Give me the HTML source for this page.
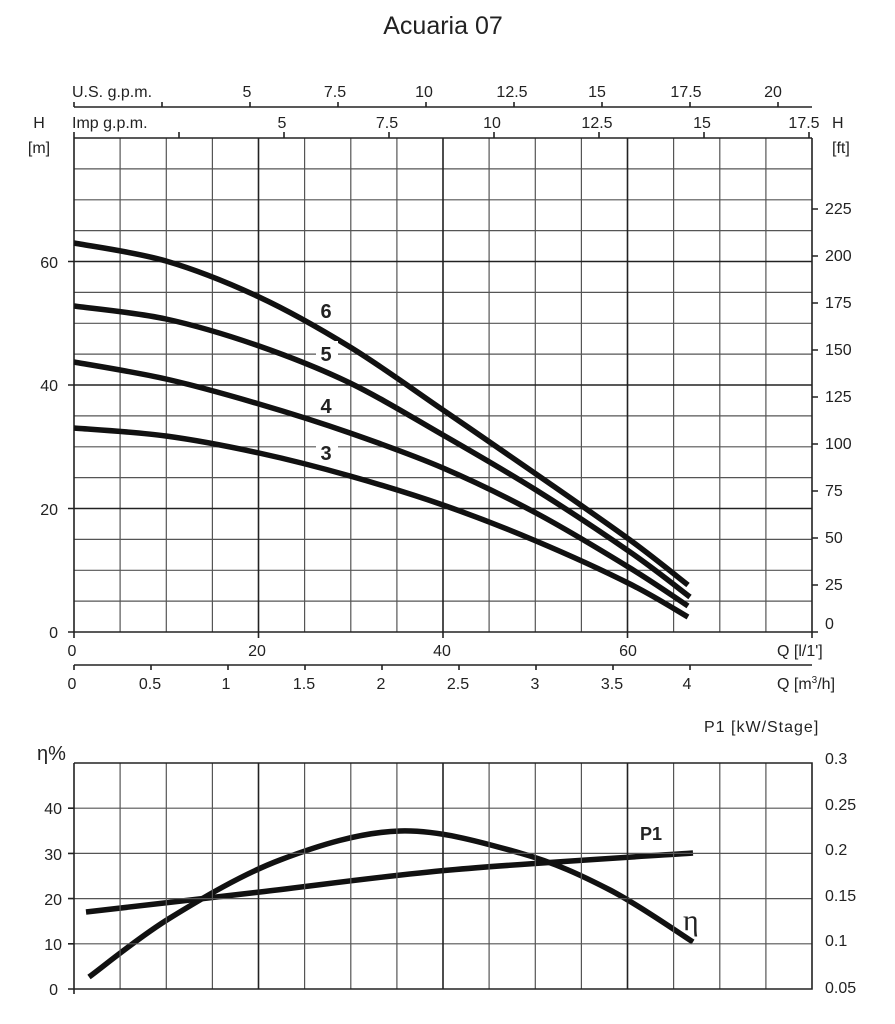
<!DOCTYPE html>
<html><head><meta charset="utf-8"><style>
html,body{margin:0;padding:0;background:#fff;}
svg{display:block;font-family:"Liberation Sans",sans-serif;fill:#222;}
</style></head><body>
<svg width="895" height="1024" viewBox="0 0 895 1024" xmlns="http://www.w3.org/2000/svg">
<rect width="895" height="1024" fill="#fff"/>
<text x="443" y="34" font-size="25" text-anchor="middle">Acuaria 07</text>

<g stroke="#555" stroke-width="1.2" fill="none">
<path d="M120.1 138V632M166.3 138V632M212.4 138V632M304.6 138V632M350.8 138V632M396.9 138V632M489.1 138V632M535.3 138V632M581.4 138V632M673.6 138V632M719.8 138V632M765.9 138V632"/>
<path d="M74 168.9H812M74 199.8H812M74 230.6H812M74 292.4H812M74 323.3H812M74 354.1H812M74 415.9H812M74 446.8H812M74 477.6H812M74 539.4H812M74 570.3H812M74 601.1H812"/>
</g>
<g stroke="#222" stroke-width="1.6" fill="none">
<path d="M258.5 138V632M443 138V632M627.5 138V632M74 261.5H812M74 385H812M74 508.5H812"/>
<path d="M74 138H812M74 138V632M812 138V632M68 632H812"/>
<path d="M68 261.5H74M68 385H74M68 508.5H74"/>
<path d="M74 632v6M258.5 632v6M443 632v6M627.5 632v6M812 632v6"/>
<path d="M74 107H812M74 107v-5M162 107v-5M250 107v-5M338 107v-5M426 107v-5M514 107v-5M602 107v-5M690 107v-5M778 107v-5"/>
<path d="M74 138v-6M179 138v-6M284 138v-6M389 138v-6M494 138v-6M599 138v-6M704 138v-6M809 138v-6"/>
<path d="M812 632h6M812 585h6M812 538h6M812 491h6M812 444h6M812 397h6M812 350h6M812 303h6M812 256h6M812 209h6"/>
<path d="M74 665H812M74 665v5M151 665v5M228 665v5M305 665v5M382 665v5M459 665v5M536 665v5M613 665v5M690 665v5"/>
</g>

<g font-size="16">
<text x="72" y="97">U.S. g.p.m.</text>
<text x="247" y="97" text-anchor="middle">5</text>
<text x="335" y="97" text-anchor="middle">7.5</text>
<text x="424" y="97" text-anchor="middle">10</text>
<text x="512" y="97" text-anchor="middle">12.5</text>
<text x="597" y="97" text-anchor="middle">15</text>
<text x="686" y="97" text-anchor="middle">17.5</text>
<text x="773" y="97" text-anchor="middle">20</text>
<text x="72" y="128">Imp g.p.m.</text>
<text x="282" y="128" text-anchor="middle">5</text>
<text x="387" y="128" text-anchor="middle">7.5</text>
<text x="492" y="128" text-anchor="middle">10</text>
<text x="597" y="128" text-anchor="middle">12.5</text>
<text x="702" y="128" text-anchor="middle">15</text>
<text x="804" y="128" text-anchor="middle">17.5</text>
<text x="832" y="128">H</text>
<text x="832" y="153">[ft]</text>
<text x="39" y="128" text-anchor="middle">H</text>
<text x="39" y="153" text-anchor="middle">[m]</text>
<text x="58" y="268" text-anchor="end">60</text>
<text x="58" y="391" text-anchor="end">40</text>
<text x="58" y="515" text-anchor="end">20</text>
<text x="58" y="638" text-anchor="end">0</text>
<text x="825" y="214">225</text>
<text x="825" y="261">200</text>
<text x="825" y="308">175</text>
<text x="825" y="355">150</text>
<text x="825" y="402">125</text>
<text x="825" y="449">100</text>
<text x="825" y="496">75</text>
<text x="825" y="543">50</text>
<text x="825" y="590">25</text>
<text x="825" y="629">0</text>
<text x="72" y="656" text-anchor="middle">0</text>
<text x="257" y="656" text-anchor="middle">20</text>
<text x="442" y="656" text-anchor="middle">40</text>
<text x="628" y="656" text-anchor="middle">60</text>
<text x="777" y="656">Q [l/1']</text>
<text x="72" y="689" text-anchor="middle">0</text>
<text x="150" y="689" text-anchor="middle">0.5</text>
<text x="226" y="689" text-anchor="middle">1</text>
<text x="304" y="689" text-anchor="middle">1.5</text>
<text x="381" y="689" text-anchor="middle">2</text>
<text x="458" y="689" text-anchor="middle">2.5</text>
<text x="535" y="689" text-anchor="middle">3</text>
<text x="612" y="689" text-anchor="middle">3.5</text>
<text x="687" y="689" text-anchor="middle">4</text>
<text x="777" y="689">Q [m<tspan font-size="10" dy="-6">3</tspan><tspan dy="6">/h]</tspan></text>
</g>

<g id="curves" stroke="#111" stroke-width="5.5" fill="none" stroke-linejoin="round">
<polyline points="74,243 166,261 259,297 350,347 443,410 536,474 630,540 688,585"/>
<polyline points="74,306 166,319 259,346 350,383 443,435 536,490 630,552 690,597"/>
<polyline points="74,362 166,379 259,404 350,433 443,468 536,513 630,568 688,606"/>
<polyline points="74,428 166,436 259,453 350,476 443,505 536,541 630,584 688,617"/>
<polyline points="89,977 170,918 280,860 400,831 520,853 610,890 693,942"/>
<polyline points="86,912 260,892 450,870 693,853"/>
</g>
<g font-size="20" font-weight="bold">
<rect x="316" y="341" width="22" height="22" fill="#fff"/>
<rect x="316" y="393" width="22" height="22" fill="#fff"/>
<rect x="316" y="440" width="22" height="22" fill="#fff"/>
<text x="326" y="318" text-anchor="middle">6</text>
<text x="326" y="361" text-anchor="middle">5</text>
<text x="326" y="413" text-anchor="middle">4</text>
<text x="326" y="460" text-anchor="middle">3</text>
</g>

<g stroke="#555" stroke-width="1.2" fill="none">
<path d="M120.1 763V989M166.3 763V989M212.4 763V989M304.6 763V989M350.8 763V989M396.9 763V989M489.1 763V989M535.3 763V989M581.4 763V989M673.6 763V989M719.8 763V989M765.9 763V989"/>
<path d="M74 808.2H812M74 853.4H812M74 898.6H812M74 943.8H812"/>
</g>
<g stroke="#222" stroke-width="1.6" fill="none">
<path d="M258.5 763V989M443 763V989M627.5 763V989"/>
<path d="M74 763H812V989H68M74 763V994"/>
<path d="M68 808.2H74M68 853.4H74M68 898.6H74M68 943.8H74"/>
</g>
<g font-size="16">
<text x="37" y="760" font-size="20">η%</text>
<text x="62" y="814" text-anchor="end">40</text>
<text x="62" y="860" text-anchor="end">30</text>
<text x="62" y="905" text-anchor="end">20</text>
<text x="62" y="950" text-anchor="end">10</text>
<text x="58" y="995" text-anchor="end">0</text>
<text x="704" y="732" letter-spacing="1">P1 [kW/Stage]</text>
<text x="825" y="764">0.3</text>
<text x="825" y="810">0.25</text>
<text x="825" y="855">0.2</text>
<text x="825" y="901">0.15</text>
<text x="825" y="946">0.1</text>
<text x="825" y="993">0.05</text>
<text x="640" y="840" font-weight="bold" font-size="18">P1</text>
<text x="683" y="930" font-size="30" font-family="Liberation Serif, serif">η</text>
</g>
</svg>
<script>
document.querySelectorAll('#curves polyline').forEach(function(pl){
  var p=pl.getAttribute('points').trim().split(/\s+/).map(function(s){return s.split(',').map(Number);});
  var d='M'+p[0][0]+' '+p[0][1];
  for(var i=0;i<p.length-1;i++){
    var p0=p[i-1]||p[i],p1=p[i],p2=p[i+1],p3=p[i+2]||p[i+1];
    var c1x=p1[0]+(p2[0]-p0[0])/6,c1y=p1[1]+(p2[1]-p0[1])/6;
    var c2x=p2[0]-(p3[0]-p1[0])/6,c2y=p2[1]-(p3[1]-p1[1])/6;
    d+=' C'+c1x.toFixed(1)+' '+c1y.toFixed(1)+','+c2x.toFixed(1)+' '+c2y.toFixed(1)+','+p2[0]+' '+p2[1];
  }
  var path=document.createElementNS('http://www.w3.org/2000/svg','path');
  path.setAttribute('d',d);
  pl.parentNode.replaceChild(path,pl);
});
</script>
</body></html>
